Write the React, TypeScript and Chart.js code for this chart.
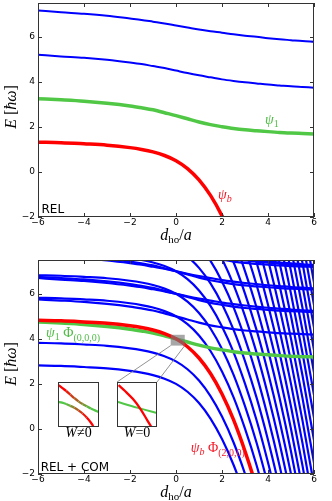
import React, { useEffect, useRef } from 'react';
import { Chart, registerables } from 'chart.js';

Chart.register(...registerables);

// ---------------- data ----------------
const X_REL = [-6, -5, -4, -3, -2, -1.5, -1, -0.5, 0, 0.5, 1, 1.5, 2, 2.5, 3, 3.5, 4, 4.5, 5, 5.5, 6];
// relative-motion energies (units of hbar*omega)
const E_PSI_B = [1.32, 1.3, 1.25, 1.19, 1.08, 1.0, 0.89, 0.73, 0.5, 0.15, -0.35, -1.04, -1.95, -3.09, -4.49, -6.1, -7.99, -10.12, -12.5, -15.13, -18.0];
const E_PSI_1 = [3.25, 3.2, 3.14, 3.05, 2.93, 2.85, 2.76, 2.63, 2.5, 2.36, 2.22, 2.1, 2.01, 1.93, 1.87, 1.83, 1.79, 1.755, 1.73, 1.71, 1.69];
const E_PSI_2 = [5.2, 5.13, 5.07, 4.98, 4.86, 4.79, 4.7, 4.61, 4.5, 4.39, 4.29, 4.2, 4.11, 4.04, 3.98, 3.93, 3.88, 3.84, 3.8, 3.77, 3.74];
const E_PSI_3 = [7.17, 7.09, 7.02, 6.93, 6.81, 6.75, 6.67, 6.59, 6.5, 6.41, 6.32, 6.245, 6.18, 6.11, 6.05, 6.0, 5.94, 5.89, 5.85, 5.81, 5.78];

// centre-of-mass energies added in the lower panel
const COM_BOUND = [1.5, 2.5, 3.5, 4.5, 5.5, 6.5, 7.5, 8.5, 9.5, 10.5, 11.5, 12.5, 13.5, 14.5, 15.5, 16.5, 17.5, 18.5, 19.5, 20.5, 21.5, 22.5, 23.5, 24.5, 25.5];
const RED_COM_INDEX = 2; // psi_b Phi(2,0,0)
const COM_PSI1 = [1.5, 2.5, 3.5, 4.5, 5.5]; // first one is psi_1 Phi(0,0,0)
const COM_PSI2 = [1.5, 2.5, 3.5];
const COM_PSI3 = [1.5];

const X_TICKS = [-6, -4, -2, 0, 2, 4, 6];
const Y_TICKS = [-2, 0, 2, 4, 6];
const X_MIN = -6;
const X_MAX = 6;
const E_MIN = -2;
const E_MAX = 7.5;

// zoom window around the crossing (data units)
const ZOOM_BOX_X = [-0.23, 0.38];
const ZOOM_BOX_E = [3.7, 4.18];

// insets, normalized window coordinates
const INSET_AVOID_UP_X = [0.02, 0.1, 0.2, 0.3, 0.4, 0.5, 0.6, 0.7, 0.8, 0.9, 1.0];
const INSET_AVOID_UP_Y = [0.93, 0.87, 0.8, 0.72, 0.64, 0.57, 0.51, 0.46, 0.41, 0.37, 0.33];
const INSET_AVOID_LOW_X = [0, 0.1, 0.2, 0.3, 0.4, 0.5, 0.6, 0.7, 0.8, 0.86];
const INSET_AVOID_LOW_Y = [0.56, 0.54, 0.51, 0.47, 0.43, 0.37, 0.3, 0.21, 0.1, 0.02];
const INSET_CROSS_RED_X = [0.04, 0.2, 0.4, 0.58, 0.75, 0.86];
const INSET_CROSS_RED_Y = [0.93, 0.8, 0.62, 0.41, 0.16, 0.0];
const INSET_CROSS_GREEN_X = [0, 0.5, 1];
const INSET_CROSS_GREEN_Y = [0.56, 0.43, 0.31];

// ---------------- styles ----------------
const BLUE = 'rgb(0,0,255)';
const RED = 'rgb(255,0,0)';
const GREEN = 'rgb(80,200,70)';
const RED_TXT = 'rgb(245,25,40)';
const GREEN_TXT = 'rgb(80,190,70)';
const FRAME = '#333';
const SERIF = '"Liberation Serif", "DejaVu Serif", serif';
const SANS = '"DejaVu Sans", sans-serif';

const INSET1 = { left: 58, top: 382, w: 41, h: 45 };
const INSET2 = { left: 117, top: 382, w: 40, h: 45 };
const BOTTOM_TOP = 250;

type Part = { t: string; it?: boolean; sz: number; dy?: number; fam?: string };

function partFont(p: Part) {
  return `${p.it ? 'italic ' : ''}${p.sz}px ${p.fam || SERIF}`;
}

function drawRich(ctx: CanvasRenderingContext2D, parts: Part[], x: number, y: number, color: string, align: 'left' | 'center' = 'left') {
  ctx.save();
  ctx.fillStyle = color;
  ctx.textAlign = 'left';
  ctx.textBaseline = 'alphabetic';
  let w = 0;
  for (const p of parts) {
    ctx.font = partFont(p);
    w += ctx.measureText(p.t).width;
  }
  let cx = align === 'center' ? x - w / 2 : x;
  for (const p of parts) {
    ctx.font = partFont(p);
    ctx.fillText(p.t, cx, y + (p.dy || 0));
    cx += ctx.measureText(p.t).width;
  }
  ctx.restore();
}

function fmtTick(v: number | string) {
  const n = Number(v);
  return n < 0 ? '\u2212' + Math.abs(n) : String(n);
}

function curve(E: number[], off: number, color: string, width: number) {
  return {
    data: X_REL.map((x, i) => ({ x, y: E[i] + off })),
    borderColor: color,
    borderWidth: width,
    pointRadius: 0,
    fill: false,
    clip: 0,
    cubicInterpolationMode: 'monotone',
  };
}

function clipStart(chart: any) {
  const { ctx, chartArea: a } = chart;
  ctx.save();
  ctx.beginPath();
  ctx.rect(a.left, a.top, a.right - a.left, a.bottom - a.top);
  ctx.clip();
}

function drawFrame(chart: any) {
  const { ctx, chartArea: a, scales } = chart;
  const x = scales.x;
  const y = scales.y;
  ctx.save();
  ctx.strokeStyle = FRAME;
  ctx.lineWidth = 1;
  ctx.beginPath();
  for (const v of X_TICKS) {
    const px = Math.round(x.getPixelForValue(v)) + 0.5;
    ctx.moveTo(px, a.bottom);
    ctx.lineTo(px, a.bottom - 4);
    ctx.moveTo(px, a.top);
    ctx.lineTo(px, a.top + 4);
  }
  for (const v of Y_TICKS) {
    const py = Math.round(y.getPixelForValue(v)) + 0.5;
    ctx.moveTo(a.left, py);
    ctx.lineTo(a.left + 4, py);
    ctx.moveTo(a.right, py);
    ctx.lineTo(a.right - 4, py);
  }
  ctx.stroke();
  ctx.strokeRect(a.left + 0.5, a.top + 0.5, a.right - a.left - 1, a.bottom - a.top - 1);
  ctx.restore();
}

function drawAxisTitles(chart: any) {
  const { ctx, chartArea: a } = chart;
  drawRich(ctx, [
    { t: 'd', it: true, sz: 16 },
    { t: 'ho', sz: 11, dy: 3 },
    { t: '/', sz: 16 },
    { t: 'a', it: true, sz: 16 },
  ], (a.left + a.right) / 2, a.bottom + 22.5, '#000', 'center');
  ctx.save();
  ctx.translate(16, (a.top + a.bottom) / 2 - 3);
  ctx.rotate(-Math.PI / 2);
  drawRich(ctx, [
    { t: 'E', it: true, sz: 16 },
    { t: ' [', sz: 16 },
    { t: '\u0127\u03c9', it: true, sz: 16 },
    { t: ']', sz: 16 },
  ], 0, 0, '#000', 'center');
  ctx.restore();
}

function baseOptions(padTop: number, xAxisH: number) {
  const tickFont = { family: SANS, size: 9, lineHeight: 1 };
  return {
    responsive: false,
    animation: false,
    devicePixelRatio: 1,
    events: [],
    layout: { padding: { left: 0, right: 18, top: padTop, bottom: 0 } },
    plugins: { legend: { display: false }, tooltip: { enabled: false } },
    elements: { point: { radius: 0 } },
    scales: {
      x: {
        type: 'linear',
        min: X_MIN,
        max: X_MAX,
        grid: { display: false, drawTicks: false },
        border: { display: false },
        ticks: { font: tickFont, color: '#000', padding: 1, maxRotation: 0, autoSkip: false, callback: fmtTick },
        afterBuildTicks: (s: any) => { s.ticks = X_TICKS.map((v) => ({ value: v })); },
        afterFit: (s: any) => { s.height = xAxisH; s.paddingLeft = 0; s.paddingRight = 0; },
      },
      y: {
        type: 'linear',
        min: E_MIN,
        max: E_MAX,
        grid: { display: false, drawTicks: false },
        border: { display: false },
        ticks: { font: tickFont, color: '#000', padding: 3, autoSkip: false, callback: fmtTick },
        afterBuildTicks: (s: any) => { s.ticks = Y_TICKS.map((v) => ({ value: v })); },
        afterFit: (s: any) => { s.width = 38; s.paddingTop = 0; s.paddingBottom = 0; },
      },
    },
  };
}

function makeTop(canvas: HTMLCanvasElement) {
  const datasets = [
    curve(E_PSI_B, 0, RED, 3.5),
    curve(E_PSI_1, 0, GREEN, 3.5),
    curve(E_PSI_2, 0, BLUE, 2),
    curve(E_PSI_3, 0, BLUE, 2),
  ];
  return new Chart(canvas, {
    type: 'line',
    data: { datasets } as any,
    options: baseOptions(3, 33) as any,
    plugins: [{
      id: 'overlayTop',
      beforeDatasetsDraw(chart: any) { clipStart(chart); },
      afterDatasetsDraw(chart: any) {
        const { ctx, chartArea: a, scales } = chart;
        ctx.restore();
        drawFrame(chart);
        const px = (x: number) => scales.x.getPixelForValue(x);
        const py = (e: number) => scales.y.getPixelForValue(e);
        drawRich(ctx, [{ t: '\u03c8', it: true, sz: 14 }, { t: '1', sz: 10, dy: 3 }], px(3.87), py(2.13), GREEN_TXT);
        drawRich(ctx, [{ t: '\u03c8', it: true, sz: 14 }, { t: 'b', it: true, sz: 10, dy: 3 }], px(1.83), py(-1.2), RED_TXT);
        drawRich(ctx, [{ t: 'REL', sz: 12, fam: SANS }], a.left + 3.5, a.bottom - 4, '#000');
        drawAxisTitles(chart);
      },
    }],
  });
}

function makeBottom(canvas: HTMLCanvasElement) {
  const datasets: any[] = [
    curve(E_PSI_B, COM_BOUND[RED_COM_INDEX], RED, 3.5),
    curve(E_PSI_1, COM_PSI1[0], GREEN, 3.5),
  ];
  COM_BOUND.forEach((c, i) => { if (i !== RED_COM_INDEX) datasets.push(curve(E_PSI_B, c, BLUE, 2.2)); });
  COM_PSI1.slice(1).forEach((c) => datasets.push(curve(E_PSI_1, c, BLUE, 2.2)));
  COM_PSI2.forEach((c) => datasets.push(curve(E_PSI_2, c, BLUE, 2.2)));
  COM_PSI3.forEach((c) => datasets.push(curve(E_PSI_3, c, BLUE, 2.2)));

  return new Chart(canvas, {
    type: 'line',
    data: { datasets } as any,
    options: baseOptions(10, 27) as any,
    plugins: [{
      id: 'overlayBottom',
      beforeDatasetsDraw(chart: any) { clipStart(chart); },
      afterDatasetsDraw(chart: any) {
        const { ctx, chartArea: a, scales } = chart;
        ctx.restore();
        const px = (x: number) => scales.x.getPixelForValue(x);
        const py = (e: number) => scales.y.getPixelForValue(e);
        // zoom box
        const bx0 = px(ZOOM_BOX_X[0]);
        const bx1 = px(ZOOM_BOX_X[1]);
        const by0 = py(ZOOM_BOX_E[1]);
        const by1 = py(ZOOM_BOX_E[0]);
        ctx.save();
        ctx.fillStyle = 'rgba(120,120,120,0.65)';
        ctx.fillRect(bx0, by0, bx1 - bx0, by1 - by0);
        ctx.strokeStyle = '#777';
        ctx.lineWidth = 0.8;
        ctx.beginPath();
        ctx.moveTo(bx0, by1);
        ctx.lineTo(INSET2.left, INSET2.top - BOTTOM_TOP);
        ctx.moveTo(bx1, by1);
        ctx.lineTo(INSET2.left + INSET2.w, INSET2.top - BOTTOM_TOP);
        ctx.stroke();
        ctx.restore();
        drawFrame(chart);
        drawRich(ctx, [
          { t: '\u03c8', it: true, sz: 14 },
          { t: '1', sz: 10, dy: 3 },
          { t: ' ', sz: 14 },
          { t: '\u03a6', sz: 14 },
          { t: '(0,0,0)', sz: 10, dy: 4 },
        ], px(-5.65), py(4.08), GREEN_TXT);
        drawRich(ctx, [
          { t: '\u03c8', it: true, sz: 14 },
          { t: 'b', it: true, sz: 10, dy: 3 },
          { t: ' ', sz: 14 },
          { t: '\u03a6', sz: 14 },
          { t: '(2,0,0)', sz: 10, dy: 4 },
        ], px(0.64), py(-1.03), RED_TXT);
        drawRich(ctx, [{ t: 'REL + COM', sz: 12, fam: SANS }], a.left + 2.7, a.bottom - 3.3, '#000');
        const wy = INSET1.top + INSET1.h + 9.5 - BOTTOM_TOP;
        drawRich(ctx, [{ t: 'W', it: true, sz: 14 }, { t: '\u2260', sz: 14 }, { t: '0', sz: 14 }], INSET1.left + INSET1.w / 2, wy, '#000', 'center');
        drawRich(ctx, [{ t: 'W', it: true, sz: 14 }, { t: '=', sz: 14 }, { t: '0', sz: 14 }], INSET2.left + INSET2.w / 2, wy, '#000', 'center');
        drawAxisTitles(chart);
      },
    }],
  });
}

function mixColor(t: number) {
  const c = Math.max(0, Math.min(1, t));
  const r = Math.round(255 + (80 - 255) * c);
  const g = Math.round(200 * c);
  const b = Math.round(70 * c);
  return `rgb(${r},${g},${b})`;
}

function segMid(ctx: any) {
  return (ctx.p0.parsed.x + ctx.p1.parsed.x) / 2;
}

function makeInset(canvas: HTMLCanvasElement, kind: 'avoided' | 'cross') {
  const pts = (xs: number[], ys: number[]) => xs.map((x, i) => ({ x, y: ys[i] }));
  const datasets: any[] = kind === 'avoided'
    ? [
      {
        data: pts(INSET_AVOID_UP_X, INSET_AVOID_UP_Y), borderWidth: 2.3, borderColor: RED, clip: 0,
        cubicInterpolationMode: 'monotone',
        segment: { borderColor: (c: any) => mixColor((segMid(c) - 0.15) / 0.65) },
      },
      {
        data: pts(INSET_AVOID_LOW_X, INSET_AVOID_LOW_Y), borderWidth: 2.3, borderColor: GREEN, clip: 0,
        cubicInterpolationMode: 'monotone',
        segment: { borderColor: (c: any) => mixColor(1 - (segMid(c) - 0.2) / 0.5) },
      },
    ]
    : [
      { data: pts(INSET_CROSS_RED_X, INSET_CROSS_RED_Y), borderWidth: 2.3, borderColor: RED, clip: 0, cubicInterpolationMode: 'monotone' },
      { data: pts(INSET_CROSS_GREEN_X, INSET_CROSS_GREEN_Y), borderWidth: 2, borderColor: GREEN, clip: 0, cubicInterpolationMode: 'monotone' },
    ];
  return new Chart(canvas, {
    type: 'line',
    data: { datasets } as any,
    options: {
      responsive: false,
      animation: false,
      devicePixelRatio: 1,
      events: [],
      layout: { padding: 0 },
      plugins: { legend: { display: false }, tooltip: { enabled: false } },
      elements: { point: { radius: 0 } },
      scales: {
        x: { type: 'linear', min: 0, max: 1, display: false },
        y: { type: 'linear', min: 0, max: 1, display: false },
      },
    } as any,
    plugins: [{
      id: 'insetFrame',
      beforeDraw(chart: any) {
        const { ctx, width, height } = chart;
        ctx.save();
        ctx.fillStyle = '#fff';
        ctx.fillRect(0, 0, width, height);
        ctx.restore();
      },
      afterDraw(chart: any) {
        const { ctx, width, height } = chart;
        ctx.save();
        ctx.strokeStyle = FRAME;
        ctx.lineWidth = 1;
        ctx.strokeRect(0.5, 0.5, width - 1, height - 1);
        ctx.restore();
      },
    }],
  });
}

export default function App() {
  const r1 = useRef<HTMLCanvasElement>(null);
  const r2 = useRef<HTMLCanvasElement>(null);
  const r3 = useRef<HTMLCanvasElement>(null);
  const r4 = useRef<HTMLCanvasElement>(null);

  useEffect(() => {
    const charts: Chart[] = [];
    if (r1.current) charts.push(makeTop(r1.current));
    if (r2.current) charts.push(makeBottom(r2.current));
    if (r3.current) charts.push(makeInset(r3.current, 'avoided'));
    if (r4.current) charts.push(makeInset(r4.current, 'cross'));
    return () => charts.forEach((c) => c.destroy());
  }, []);

  return (
    <div style={{ position: 'absolute', left: 0, top: 0, width: 332, height: 501, background: '#fff', overflow: 'hidden' }}>
      <canvas ref={r1} width={332} height={250} style={{ position: 'absolute', left: 0, top: 0, width: 332, height: 250 }} />
      <canvas ref={r2} width={332} height={251} style={{ position: 'absolute', left: 0, top: BOTTOM_TOP, width: 332, height: 251 }} />
      <canvas ref={r3} width={INSET1.w} height={INSET1.h} style={{ position: 'absolute', left: INSET1.left, top: INSET1.top, width: INSET1.w, height: INSET1.h }} />
      <canvas ref={r4} width={INSET2.w} height={INSET2.h} style={{ position: 'absolute', left: INSET2.left, top: INSET2.top, width: INSET2.w, height: INSET2.h }} />
    </div>
  );
}
